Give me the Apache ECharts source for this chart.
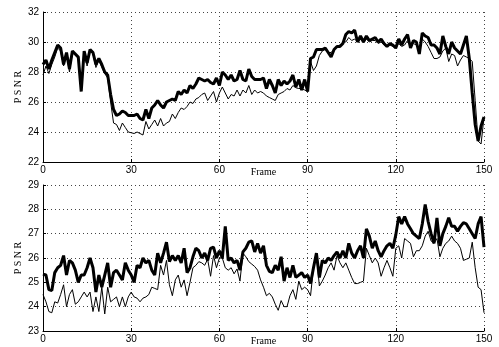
<!DOCTYPE html>
<html><head><meta charset="utf-8">
<script src="https://cdn.jsdelivr.net/npm/echarts@6/dist/echarts.min.js"></script>
<style>html,body{margin:0;padding:0;background:#fff}#c{width:499px;height:347px}</style>
</head><body><div id="c"></div>
<script>
var xTicks = [0, 30, 60, 90, 120, 150];
var topThick = [28.5,28.8,28.2,28.8,29.3,29.8,29.6,28.5,29.3,28.2,29.4,29.2,29.0,26.7,29.4,28.6,29.5,29.3,28.5,28.9,28.5,28.0,27.8,26.5,25.5,25.1,25.2,25.4,25.3,25.1,25.1,25.1,25.2,24.9,24.8,25.5,24.9,25.6,25.8,26.1,25.8,25.6,26.0,26.1,26.2,26.1,26.7,26.5,26.8,26.6,27.1,26.9,27.2,27.6,27.5,27.4,27.5,27.3,27.2,27.6,27.1,28.0,27.8,27.5,27.8,27.4,27.5,28.1,27.5,27.4,28.2,27.7,27.5,27.5,27.5,27.6,26.9,27.5,27.1,26.6,27.5,27.1,27.4,27.2,27.4,27.8,27.0,27.5,26.8,27.5,26.7,28.9,29.0,29.5,29.5,29.5,29.6,29.3,29.0,29.5,29.7,29.7,29.9,30.5,30.7,30.6,30.8,30.0,30.4,30.0,30.4,30.1,30.2,30.3,30.0,30.2,29.9,29.7,29.9,29.8,29.6,30.2,29.8,30.2,30.5,29.6,30.1,30.0,29.2,30.6,30.4,30.3,29.8,29.8,29.6,29.2,30.4,29.7,29.2,30.0,29.6,29.4,29.2,29.8,30.4,28.9,26.6,24.5,23.4,24.4,25.0];
var topThin = [27.8,28.4,27.9,28.5,29.0,29.6,29.4,28.4,29.2,28.0,29.3,29.1,28.9,26.9,29.3,28.4,29.4,29.2,28.3,28.8,28.3,27.9,27.6,26.0,24.6,24.5,24.1,24.6,24.3,24.0,23.95,23.9,24.0,23.9,23.8,24.7,24.2,24.5,24.8,24.4,24.9,24.4,24.6,24.7,25.2,24.9,25.3,25.6,25.5,25.7,26.0,25.9,26.2,26.3,26.5,26.6,26.1,26.4,26.7,26.0,26.6,27.0,26.6,26.2,26.5,26.4,26.8,26.4,26.8,26.6,27.1,26.5,26.8,26.6,26.7,26.6,26.4,26.3,26.2,26.1,26.5,26.6,26.7,26.9,26.8,27.1,26.95,26.9,26.9,26.8,26.7,28.7,28.1,28.4,29.1,29.4,29.5,29.3,29.3,29.5,29.7,29.8,30.0,30.0,30.3,30.1,30.2,30.0,30.2,30.0,30.2,30.0,30.1,30.1,29.9,30.0,29.8,29.7,29.8,29.7,29.6,29.9,29.7,29.8,30.1,29.7,29.9,29.8,29.5,30.2,30.0,29.7,29.3,28.9,28.9,29.0,29.4,29.6,28.7,29.2,29.1,28.4,28.8,29.1,29.0,28.9,28.7,26.1,23.4,23.2,25.0];
var botThick = [25.34,25.3,24.7,24.66,25.4,25.6,25.7,26.1,25.3,25.9,25.8,25.5,25.0,25.3,25.3,25.6,26.0,25.6,24.6,25.3,24.8,25.3,25.8,24.8,25.4,25.5,25.3,25.1,25.8,25.5,25.3,25.0,25.7,25.6,26.0,25.8,25.9,25.5,25.3,26.2,25.8,26.2,26.65,25.85,26.1,25.9,26.1,25.8,26.4,25.4,25.6,26.05,26.4,26.3,26.0,26.2,25.9,26.4,26.45,26.0,26.3,26.0,27.3,25.9,26.0,25.8,25.9,25.5,26.25,26.4,26.65,26.7,26.25,26.6,26.2,26.5,25.7,25.45,25.4,25.7,25.5,26.05,25.05,25.6,25.2,25.7,25.2,25.3,25.4,25.2,25.3,24.95,25.6,26.2,25.2,25.9,25.8,26.0,25.9,26.1,26.25,26.0,26.3,26.0,26.6,26.2,26.0,26.3,26.5,26.0,27.2,26.9,26.4,26.7,26.3,26.05,26.3,26.5,26.6,26.4,26.95,27.7,27.4,27.7,27.4,27.2,27.0,26.9,26.8,27.4,28.2,27.5,27.0,26.6,27.65,26.5,27.0,27.3,27.65,27.3,27.3,27.1,27.3,27.45,27.4,27.2,27.0,26.8,27.4,27.7,26.45];
var botThin = [24.5,24.2,23.8,23.75,24.2,24.15,24.5,24.9,24.0,24.5,24.7,24.1,24.2,24.4,24.6,24.4,24.6,23.8,24.4,23.8,24.8,23.7,24.8,24.2,24.3,24.4,24.0,24.4,24.0,24.4,24.6,24.4,24.35,24.2,24.35,24.4,24.5,24.8,24.75,24.7,25.7,25.3,25.9,24.9,24.45,25.1,25.3,24.8,25.1,24.45,25.0,25.6,25.7,25.85,25.8,25.7,25.95,25.25,26.1,25.6,26.0,26.0,25.6,25.5,25.6,25.35,25.55,25.05,26.2,26.05,25.85,25.75,25.65,25.5,25.1,24.8,24.45,24.55,24.4,24.1,23.85,24.25,24.0,24.0,24.45,24.7,24.3,25.05,24.7,24.8,24.7,24.45,25.6,26.15,24.85,25.05,25.3,25.6,25.8,25.5,26.1,25.8,25.6,25.8,25.5,25.2,24.95,24.95,25.0,25.05,26.4,26.1,25.8,26.0,25.8,25.25,25.6,25.9,25.6,25.25,26.4,26.5,26.0,26.8,26.7,26.6,26.05,26.3,26.3,26.5,26.9,27.1,26.7,26.6,26.8,26.05,26.4,26.6,26.7,26.9,26.7,26.6,26.4,25.9,25.95,26.0,26.65,25.6,24.8,24.7,23.75];

function pairs(arr){ return arr.map(function(v,i){ return [i, v]; }); }

var chart = echarts.init(document.getElementById('c'), null, {renderer:'canvas'});
var labelFont = {color:'#000', fontFamily:'Liberation Sans, Arial, sans-serif', fontSize:10};
var nameFont = {color:'#000', fontFamily:'Liberation Serif, Times New Roman, serif', fontSize:10};
function xAx(gi){
  return {type:'value', gridIndex:gi, min:0, max:150, interval:30,
    name:'Frame', nameLocation:'middle', nameGap:5, nameMoveOverlap:false, nameTextStyle:nameFont,
    axisLine:{show:true, onZero:false, lineStyle:{color:'#000', width:1}},
    axisTick:{show:true, inside:true, length:3, lineStyle:{color:'#000'}},
    axisLabel:Object.assign({margin:3, customValues:xTicks}, labelFont),
    splitLine:{show:true, lineStyle:{color:'#444', type:[1,3], width:1}}};
}
function yAx(gi, mn, mx, iv){
  return {type:'value', gridIndex:gi, min:mn, max:mx, interval:iv,
    name:'P S N R', nameLocation:'middle', nameGap:20, nameMoveOverlap:false, nameTextStyle:nameFont,
    axisLine:{show:true, onZero:false, lineStyle:{color:'#000', width:1}},
    axisTick:{show:true, inside:true, length:3, lineStyle:{color:'#000'}},
    axisLabel:Object.assign({margin:4}, labelFont),
    splitLine:{show:true, lineStyle:{color:'#444', type:[1,3], width:1}}};
}
function ser(arr, gi, w){
  return {type:'line', xAxisIndex:gi, yAxisIndex:gi, data:pairs(arr), showSymbol:false, symbol:'none',
    lineStyle:{color:'#000', width:w}, animation:false, silent:true, z: w>2?3:2};
}
chart.setOption({
  animation:false,
  backgroundColor:'#fff',
  grid:[{left:43, right:15, top:12, height:150}, {left:43, right:15, top:185, height:149}],
  xAxis:[xAx(0), xAx(1)],
  yAxis:[yAx(0,22,32,2), yAx(1,23,29,1)],
  series:[ser(topThin,0,1), ser(topThick,0,3), ser(botThin,1,1), ser(botThick,1,3)]
});
</script></body></html>
